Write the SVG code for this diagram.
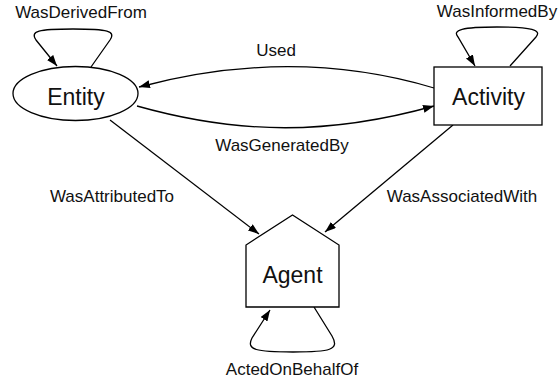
<svg xmlns="http://www.w3.org/2000/svg" width="560" height="382" viewBox="0 0 560 382">
<defs>
<marker id="arr" markerUnits="userSpaceOnUse" markerWidth="12" markerHeight="9" refX="11" refY="4" orient="auto">
<path d="M0,0 L11,4 L0,8 z" fill="#000"/>
</marker>
<style>
.shape{fill:#fff;stroke:#000;stroke-width:1.3}
.edge{fill:none;stroke:#000;stroke-width:1.3;marker-end:url(#arr)}
.nl{font-family:"Liberation Sans",Arial,sans-serif;font-size:23px;fill:#111;text-anchor:middle}
.el{font-family:"Liberation Sans",Arial,sans-serif;font-size:17px;fill:#111;text-anchor:middle}
</style>
</defs>
<rect width="560" height="382" fill="#fff"/>
<g id="connectors">
<path class="edge" d="M91,67 L110,40 C116,31 108,29 73,29 C38,29 30,31 36,40 L57,66"/>
<path class="edge" d="M510,66 L536,37 C542,30 532,27 497,27 C462,27 452,30 458,37 L475,66"/>
<path class="edge" d="M314,307 L332,336 C340,350 330,352 293,352 C256,352 246,350 252,338 L270,310"/>
<path class="edge" d="M434,88 C340,60 240,60 139,87"/>
<path class="edge" d="M137,106 C240,135 330,135 434,106"/>
<path class="edge" d="M110,120 L259,234"/>
<path class="edge" d="M453,125 L325,232"/>
<text class="el" x="81" y="18">WasDerivedFrom</text>
<text class="el" x="497" y="17">WasInformedBy</text>
<text class="el" x="276" y="56">Used</text>
<text class="el" x="282" y="151">WasGeneratedBy</text>
<text class="el" x="112" y="202">WasAttributedTo</text>
<text class="el" x="462" y="202">WasAssociatedWith</text>
<text class="el" x="292" y="375">ActedOnBehalfOf</text>
</g>
<g id="entity">
<ellipse class="shape" cx="75.5" cy="93.5" rx="62.5" ry="27"/>
<text class="nl" x="76" y="105">Entity</text>
</g>
<g id="activity">
<rect class="shape" x="434" y="67" width="108" height="58"/>
<text class="nl" x="488.5" y="105">Activity</text>
</g>
<g id="agent">
<polygon class="shape" points="246,307 246,245 292.5,215 339,245 339,307"/>
<text class="nl" x="292.5" y="283">Agent</text>
</g>
</svg>
